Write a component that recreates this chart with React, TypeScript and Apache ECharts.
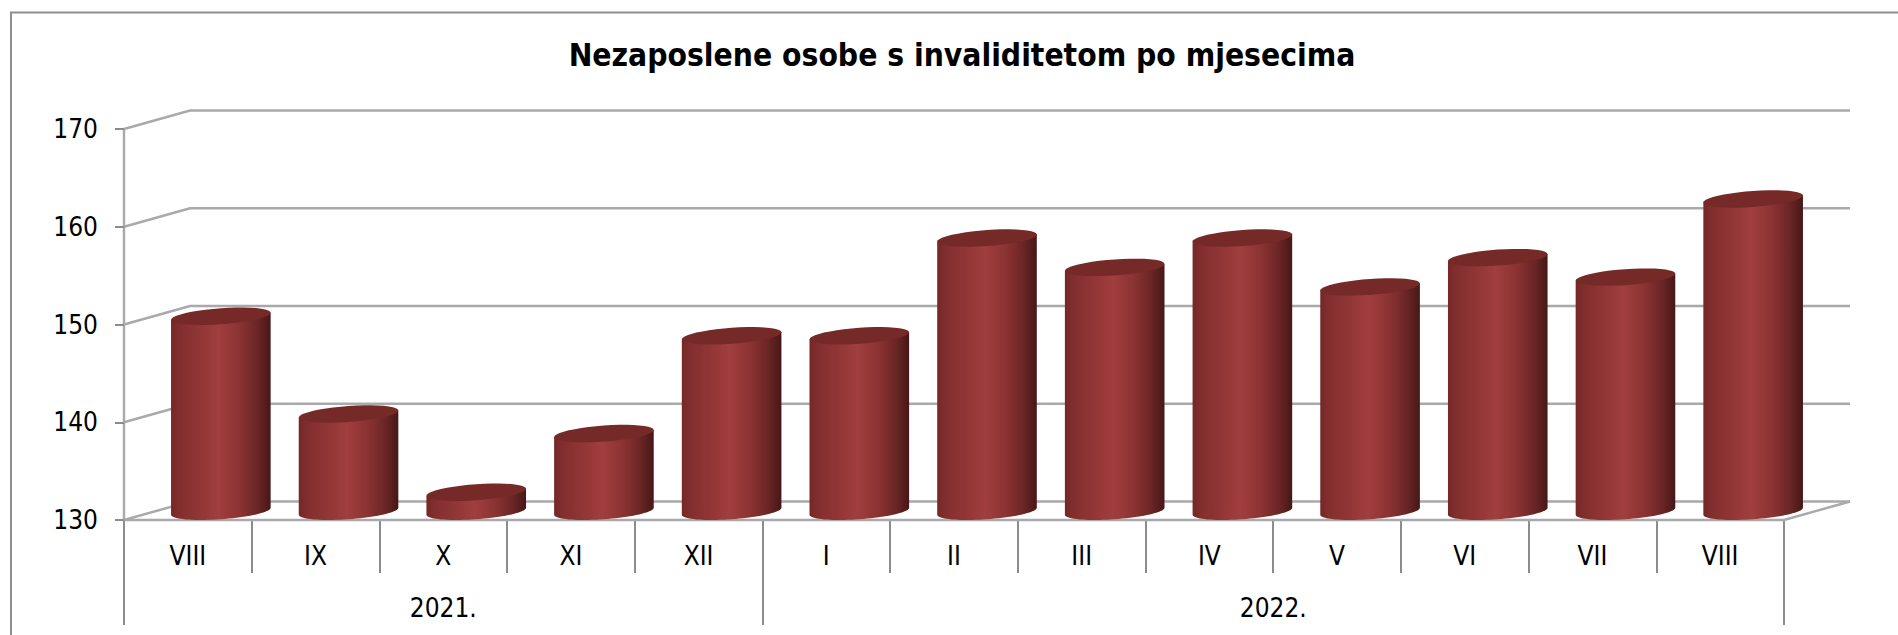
import React, { useEffect, useRef } from "react";
import * as echarts from "echarts";

const titleText = "Nezaposlene osobe s invaliditetom po mjesecima";
const months = ["VIII", "IX", "X", "XI", "XII", "I", "II", "III", "IV", "V", "VI", "VII", "VIII"];
const values = [150, 140, 132, 138, 148, 148, 158, 155, 158, 153, 156, 154, 162];
const yearLabels = ["2021.", "2022."];
const yearSpans = [5, 8];
const yTicks = [130, 140, 150, 160, 170];

const FONT = "'DejaVu Sans Condensed','DejaVu Sans',sans-serif";
const LINE = "#a9a9a9";
const TICK = "#8c8c8c";
const DEPTH_X = 66;
const DEPTH_Y = 18.5;

const yearBoundaries = yearSpans.reduce<number[]>((acc, s) => [...acc, acc[acc.length - 1] + s], [0]);
const yearCenters = yearSpans.map((s, i) => yearBoundaries[i] + s / 2);

function ring(cx: number, cy: number, a: number, b: number, s: number, from: number, to: number) {
  const pts: number[][] = [];
  const n = 40;
  for (let i = 0; i <= n; i++) {
    const t = from + ((to - from) * i) / n;
    pts.push([cx + a * Math.cos(t), cy + b * Math.sin(t) - s * Math.cos(t)]);
  }
  return pts;
}

function renderWall(params: any, api: any) {
  const cs = params.coordSys;
  const v = api.value(1);
  const y = api.coord([0, v])[1];
  const x0 = cs.x;
  const x1 = cs.x + cs.width;
  const style = { stroke: LINE, lineWidth: 2.4, fill: null };
  const children: any[] = [
    {
      type: "polyline",
      shape: { points: [[x0, y], [x0 + DEPTH_X, y - DEPTH_Y], [x1 + DEPTH_X, y - DEPTH_Y]] },
      style,
    },
  ];
  if (v === yTicks[0]) {
    children.push({
      type: "polyline",
      shape: { points: [[x0, y], [x1, y], [x1 + DEPTH_X, y - DEPTH_Y]] },
      style,
    });
  }
  return { type: "group", children };
}

function renderBar(params: any, api: any) {
  const idx = api.value(0);
  const val = api.value(1);
  const band = api.size([1, 0])[0];
  const cx = api.coord([idx, val])[0] + DEPTH_X / 2;
  const yTop = api.coord([idx, val])[1] - DEPTH_Y / 2 + 1;
  const yBase = api.coord([idx, yTicks[0]])[1] - DEPTH_Y / 2 + 0.5;
  const a = band * 0.39;
  const b = 8;
  const s = 3.5;
  const body = [
    ...ring(cx, yBase, a, b, s, Math.PI, 0),
    ...ring(cx, yTop, a, 0.01, s, 0, Math.PI),
  ];
  const gradient = new echarts.graphic.LinearGradient(0, 0, 1, 0, [
    { offset: 0, color: "#742727" },
    { offset: 0.08, color: "#822e2e" },
    { offset: 0.3, color: "#923636" },
    { offset: 0.48, color: "#a13e3e" },
    { offset: 0.7, color: "#8a3232" },
    { offset: 0.88, color: "#682424" },
    { offset: 1, color: "#461717" },
  ]);
  return {
    type: "group",
    children: [
      { type: "polygon", shape: { points: body }, style: { fill: gradient } },
      {
        type: "polygon",
        shape: { points: ring(cx, yTop, a, b, s, 0, Math.PI * 2) },
        style: { fill: "#752a28" },
      },
    ],
  };
}

export default function App() {
  const ref = useRef<HTMLDivElement>(null);
  useEffect(() => {
    const chart = echarts.init(ref.current!, null, { renderer: "svg" });
    chart.setOption({
      animation: false,
      backgroundColor: "#ffffff",
      title: {
        text: titleText,
        left: 957,
        top: 34,
        textAlign: "center",
        textStyle: { fontFamily: FONT, fontSize: 31.5, fontWeight: "bold", color: "#000" },
      },
      graphic: [
        {
          type: "polyline",
          silent: true,
          shape: { points: [[11, 635], [11, 12.5], [1898, 12.5]] },
          style: { stroke: "#8f8f8f", lineWidth: 2, fill: null },
        },
      ],
      grid: { left: 124, top: 129, width: 1660, height: 391, containLabel: false },
      xAxis: [
        {
          type: "category",
          data: months,
          position: "bottom",
          axisLine: { show: false },
          axisTick: { show: true, length: 53, lineStyle: { color: TICK, width: 2 } },
          axisLabel: { fontFamily: FONT, fontSize: 26, color: "#000", margin: 23, interval: 0 },
        },
        {
          type: "value",
          min: 0,
          max: months.length,
          position: "bottom",
          splitLine: { show: false },
          axisLine: { show: false },
          axisTick: { show: true, length: 105, customValues: yearBoundaries, lineStyle: { color: TICK, width: 2 } },
          axisLabel: {
            fontFamily: FONT,
            fontSize: 26,
            color: "#000",
            margin: 75,
            customValues: yearCenters,
            formatter: (v: number) => yearLabels[yearCenters.indexOf(v)],
          },
        },
      ],
      yAxis: {
        type: "value",
        min: 130,
        max: 170,
        interval: 10,
        splitLine: { show: false },
        axisLine: { show: true, lineStyle: { color: LINE, width: 2.4 } },
        axisTick: { show: true, length: 9, lineStyle: { color: TICK, width: 2 } },
        axisLabel: { fontFamily: FONT, fontSize: 26, color: "#000", margin: 26, padding: [4, 0, 0, 0] },
      },
      series: [
        {
          type: "custom",
          xAxisIndex: 0,
          yAxisIndex: 0,
          z: 1,
          silent: true,
          renderItem: renderWall,
          data: yTicks.map((v) => [0, v]),
        },
        {
          type: "custom",
          xAxisIndex: 0,
          yAxisIndex: 0,
          z: 2,
          silent: true,
          renderItem: renderBar,
          data: values.map((v, i) => [i, v]),
        },
      ],
    });
    return () => chart.dispose();
  }, []);
  return <div ref={ref} style={{ position: "absolute", left: 0, top: 0, width: 1898, height: 635 }} />;
}
